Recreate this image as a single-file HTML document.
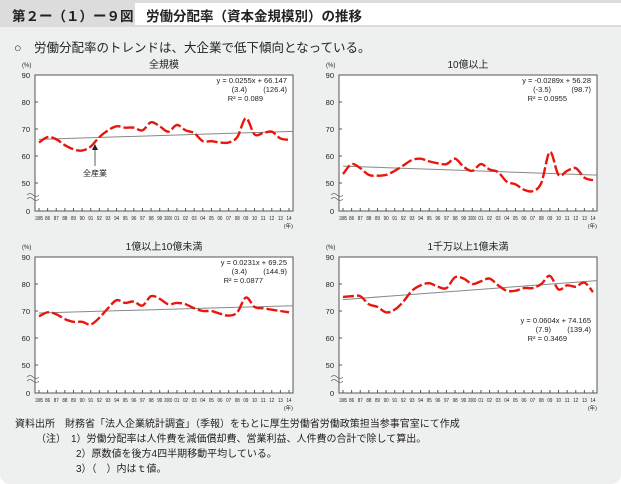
<!DOCTYPE html>
<html><head><meta charset="utf-8">
<style>
body{margin:0;width:621px;height:484px;background:#fff;font-family:"Liberation Sans","Noto Sans CJK JP",sans-serif;overflow:hidden}
#wrap{position:absolute;left:0;top:0;width:621px;height:484px;background:#eeefef;border-radius:0 0 10px 10px}
.t{position:absolute;white-space:nowrap;color:#222}
svg text{font-family:"Liberation Sans","Noto Sans CJK JP",sans-serif}
</style></head><body>
<div id="wrap">
<div style="position:absolute;left:0;top:0;width:621px;height:27px;background:#dcdcdc"></div>
<div class="t" style="left:12px;top:5px;font-size:13.5px;font-weight:bold">第２ー（１）ー９図</div>
<div style="position:absolute;left:135px;top:3px;width:486px;height:22px;background:#fff"></div>
<div class="t" style="left:146px;top:5px;font-size:13.5px;font-weight:bold">労働分配率（資本金規模別）の推移</div>
<div class="t" style="left:14px;top:37px;font-size:12.5px">○　労働分配率のトレンドは、大企業で低下傾向となっている。</div>
<svg id="svg" width="621" height="484" style="position:absolute;left:0;top:0"></svg>
<div class="t" style="left:15px;top:415px;font-size:10px">資料出所　財務省「法人企業統計調査」（季報）をもとに厚生労働省労働政策担当参事官室にて作成</div>
<div class="t" style="left:36px;top:430px;font-size:10px">（注）　1）労働分配率は人件費を減価償却費、営業利益、人件費の合計で除して算出。</div>
<div class="t" style="left:76px;top:445px;font-size:10px">2）原数値を後方4四半期移動平均している。</div>
<div class="t" style="left:76px;top:460px;font-size:10px">3）（　）内はｔ値。</div>
</div>
<script>
const years=["1985","86","87","88","89","90","91","92","93","94","95","96","97","98","99","2000","01","02","03","04","05","06","07","08","09","10","11","12","13","14"];
const yTicks=[90,80,70,60,50];
const valsAll=[65,67,66.2,64,62.5,62,63.5,67,69.5,71,70.5,70.5,69.5,72.5,71,69,71.5,69.5,68.5,65.5,65.5,65,65,67,74,68,68.5,69,66.5,66];
const vals10b=[53.3,57,55.5,53,52.7,53,54.5,56.5,58.5,59,58,57.3,57,59,56,54.5,57,55,54,50.5,49.5,47.5,47,50,61.5,53,54.5,55.5,52,51];
const vals1b=[68,69.5,68.8,67,66,66,65,67.5,71,74,73,73.5,72,75.5,74.5,72.5,73,72.5,71,70,70,69,68.3,69.5,75,71.5,71,70.5,70,69.5];
const vals10m=[75.2,75.5,75.5,72.5,71.5,69.5,70.5,73.5,77.5,79.5,80.3,79,78.5,82.5,82,80,81,82,79.5,77.5,77.5,78.5,78.5,80,83,78,79.5,79,80.5,77];
const trendA=[0.0255,-0.0289,0.0231,0.0604];
const trendB=[66.147,56.28,69.25,74.165];
const titles=["全規模","10億以上","1億以上10億未満","1千万以上1億未満"];
const eqLine1=["y = 0.0255x + 66.147","y = -0.0289x + 56.28","y = 0.0231x + 69.25","y = 0.0604x + 74.165"];
const tA=["(3.4)","(-3.5)","(3.4)","(7.9)"];
const tB=["(126.4)","(98.7)","(144.9)","(139.4)"];
const r2=["R² = 0.089","R² = 0.0955","R² = 0.0877","R² = 0.3469"];
const series=[valsAll,vals10b,vals1b,vals10m];
const panels=[[35,75],[339,75],[35,257],[339,257]];
const eqPos=[[287,83],[591,83],[287,265],[591,323]];
const svg=document.getElementById('svg');
const NS="http://www.w3.org/2000/svg";
function mk(tag,attrs,parent){const e=document.createElementNS(NS,tag);for(const k in attrs)e.setAttribute(k,attrs[k]);(parent||svg).appendChild(e);return e;}
const W=258,H=136;
series.forEach((vals,p)=>{
  const [L,T]=panels[p];
  const g=mk('g',{});
  
  
  const xs=i=>L+4+i*(W-8)/(years.length-1);
  const ys=v=>T+(90-v)*2.7;
  const bg=mk('rect',{x:L,y:T,width:W,height:H,fill:'#fff',stroke:'#555','stroke-width':1},g);
  
  
  const tt=mk('text',{x:L+W/2,y:T-7,'font-size':10,'text-anchor':'middle',fill:'#222'},g);tt.textContent=titles[p];
  
  
  const pc=mk('text',{x:L-13,y:T-8,'font-size':6,fill:'#222'},g);pc.textContent='(%)';
  yTicks.forEach(v=>{const y=ys(v);mk('line',{x1:L,x2:L+3,y1:y,y2:y,stroke:'#555'},g);
    const t=mk('text',{x:L-5,y:y+3,'font-size':7.5,'text-anchor':'end',fill:'#222'},g);t.textContent=v;
    
    });
  const z=mk('text',{x:L-5,y:T+H+3,'font-size':7.5,'text-anchor':'end',fill:'#222'},g);z.textContent='0';
  mk('path',{d:`M${L-8} ${T+H-16} q3 -3 6 0 t6 0 M${L-8} ${T+H-12} q3 -3 6 0 t6 0`,stroke:'#666',fill:'none','stroke-width':0.7},g);
  years.forEach((yl,i)=>{const x=xs(i);mk('line',{x1:x,x2:x,y1:T+H,y2:T+H-3,stroke:'#555'},g);
    const t=mk('text',{x:x,y:T+H+9,'font-size':5,'text-anchor':'middle',fill:'#222',textLength:yl.length>2?8:5,lengthAdjust:'spacingAndGlyphs'},g);t.textContent=yl;
    
    });
  const yr=mk('text',{x:L+W,y:T+H+17,'font-size':5.5,'text-anchor':'end',fill:'#222'},g);yr.textContent='(年)';
  const q0=1,q1=(years.length-1)*4+1;
  const tl=mk('line',{x1:xs(0),y1:ys(trendB[p]+trendA[p]*q0),x2:L+W,y2:ys(trendB[p]+trendA[p]*q1),stroke:'#888','stroke-width':1},g);
  
  
  const pts=vals.map((v,i)=>[xs(i),ys(v)]);
  let d=`M${pts[0][0]} ${pts[0][1]}`;
  for(let i=0;i<pts.length-1;i++){const p0=pts[i-1]||pts[i],p1=pts[i],p2=pts[i+1],p3=pts[i+2]||p2;
    d+=` C${p1[0]+(p2[0]-p0[0])/6} ${p1[1]+(p2[1]-p0[1])/6} ${p2[0]-(p3[0]-p1[0])/6} ${p2[1]-(p3[1]-p1[1])/6} ${p2[0]} ${p2[1]}`;}
  const ln=mk('path',{d:d,stroke:'#e8160c','stroke-width':2.4,fill:'none','stroke-dasharray':'11 3'},g);
  
  
  const [ex,ey]=eqPos[p];
  const e1=mk('text',{x:ex,y:ey,'font-size':7.5,'text-anchor':'end',fill:'#222'},g);e1.textContent=eqLine1[p];
  
  
  const e2=mk('text',{x:ex-40,y:ey+9,'font-size':7.5,'text-anchor':'end',fill:'#222'},g);e2.textContent=tA[p];
  
  
  const e3=mk('text',{x:ex,y:ey+9,'font-size':7.5,'text-anchor':'end',fill:'#222'},g);e3.textContent=tB[p];
  
  
  const e4=mk('text',{x:ex-24,y:ey+18,'font-size':7.5,'text-anchor':'end',fill:'#222'},g);e4.textContent=r2[p];
  
  
  if(p===0){mk('line',{x1:95,y1:150,x2:95,y2:166,stroke:'#333','stroke-width':0.8},g);
    mk('path',{d:'M92 150 L98 150 L95 144 Z',fill:'#222'},g);
    const a=mk('text',{x:95,y:176,'font-size':8,'text-anchor':'middle',fill:'#222'},g);a.textContent='全産業';
    
    }
});
</script>
</body></html>
